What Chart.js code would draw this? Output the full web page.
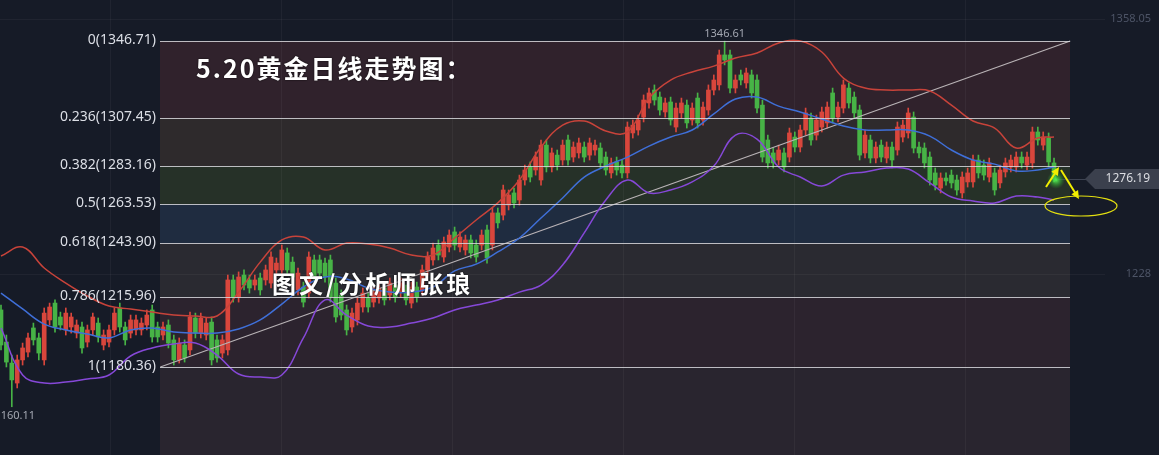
<!DOCTYPE html>
<html>
<head>
<meta charset="utf-8">
<script src="https://cdn.jsdelivr.net/npm/chart.js@4/dist/chart.umd.min.js"></script>
<style>
  html, body { margin: 0; padding: 0; background: #161b27; overflow: hidden; }
  canvas { display: block; }
</style>
</head>
<body>
<canvas id="c" width="1159" height="455"></canvas>
<script>
// 日线K线数据
const opens = [
  1209.5,1193.1,1182.4,1172.2,1184.0,1188.0,1200.3,1195.2,1184.0,1204.4,
  1213.0,1205.9,1199.3,1200.8,1197.7,1200.8,1193.1,1199.3,1202.8,1191.6,
  1193.1,1199.3,1210.5,1200.8,1197.7,1199.3,1199.3,1201.8,1209.5,1200.8,
  1196.7,1201.8,1194.2,1184.0,1191.6,1189.1,1205.4,1197.7,1196.7,1203.3,
  1194.2,1187.5,1189.1,1224.8,1216.1,1227.3,1224.8,1222.2,1225.8,1224.8,
  1223.2,1229.9,1229.9,1238.6,1233.9,1219.7,1221.2,1218.1,1235.0,1235.0,
  1233.4,1235.0,1223.2,1217.1,1209.5,1200.8,1204.4,1211.0,1215.6,1213.5,
  1215.6,1220.7,1217.1,1222.2,1218.6,1219.7,1213.0,1221.2,1219.7,1229.9,
  1235.0,1242.6,1236.5,1241.6,1249.3,1241.6,1240.1,1245.2,1242.6,1242.6,
  1250.3,1242.6,1259.0,1257.9,1263.0,1269.2,1265.6,1275.8,1282.4,1280.9,
  1275.8,1293.6,1282.4,1288.5,1286.0,1296.2,1287.5,1289.6,1292.6,1288.5,
  1291.1,1292.1,1287.5,1279.4,1285.0,1283.4,1279.4,1299.8,1301.3,1307.9,
  1315.1,1321.7,1318.1,1310.5,1315.6,1302.8,1310.0,1314.0,1306.4,1317.6,
  1306.4,1311.5,1321.7,1324.3,1339.6,1339.6,1322.7,1329.4,1325.3,1329.4,
  1326.8,1314.0,1296.2,1289.6,1286.0,1289.6,1287.5,1297.7,1292.6,1301.3,
  1307.4,1298.7,1302.8,1304.9,1320.2,1307.9,1312.5,1322.7,1318.1,1311.5,
  1289.6,1296.2,1287.0,1293.6,1287.0,1292.6,1291.1,1297.7,1299.8,1307.9,
  1292.6,1292.1,1287.5,1279.4,1271.7,1276.8,1278.3,1275.8,1269.2,1274.8,
  1274.8,1286.0,1283.4,1277.3,1279.4,1274.3,1279.9,1282.4,1282.4,1287.5,
  1283.4,1284.5,1300.3,1293.6,1297.2,1284.5
];
const highs = [
  1212.0,1196.7,1186.5,1186.5,1192.6,1197.7,1202.8,1197.7,1210.5,1213.0,
  1214.6,1208.4,1210.5,1207.9,1204.4,1203.3,1201.8,1207.9,1205.4,1199.3,
  1201.8,1210.5,1213.0,1203.3,1206.9,1206.9,1205.4,1209.5,1212.0,1203.3,
  1203.3,1204.4,1196.7,1195.2,1194.2,1208.4,1207.9,1207.9,1205.4,1205.9,
  1196.7,1196.7,1227.3,1227.3,1228.9,1229.9,1227.3,1227.3,1228.3,1232.4,
  1239.1,1236.0,1242.6,1241.1,1236.5,1230.9,1223.7,1239.1,1237.5,1237.5,
  1236.0,1237.5,1225.8,1219.7,1212.0,1210.5,1215.6,1220.7,1218.1,1221.2,
  1223.2,1223.2,1225.8,1224.8,1225.8,1222.2,1223.7,1223.7,1232.4,1239.1,
  1243.6,1245.2,1246.7,1250.3,1251.8,1249.3,1247.7,1247.7,1245.2,1250.3,
  1252.8,1261.5,1261.5,1273.2,1270.7,1271.7,1278.3,1283.4,1285.0,1290.1,
  1296.2,1296.2,1292.1,1291.1,1296.2,1298.7,1295.2,1297.2,1295.2,1297.2,
  1296.2,1294.7,1290.1,1287.0,1287.5,1286.0,1305.4,1306.4,1308.9,1319.2,
  1322.7,1324.3,1320.7,1317.6,1318.1,1315.1,1317.6,1316.6,1315.1,1320.2,
  1315.6,1324.3,1329.4,1342.1,1346.61,1342.1,1329.4,1331.9,1332.9,1331.9,
  1329.4,1316.6,1298.7,1292.1,1293.6,1292.1,1302.3,1300.3,1303.8,1312.5,
  1310.0,1308.9,1313.0,1315.6,1322.7,1315.6,1326.8,1325.3,1320.7,1314.0,
  1301.3,1298.7,1295.2,1296.2,1295.2,1295.2,1305.4,1306.4,1312.5,1310.5,
  1295.2,1294.7,1290.1,1281.9,1279.4,1279.4,1280.9,1278.3,1279.9,1281.9,
  1288.5,1288.5,1286.0,1287.0,1281.9,1283.4,1287.0,1288.5,1290.1,1290.1,
  1290.1,1302.8,1302.8,1300.3,1299.8,1287.0
];
const lows = [
  1189.1,1180.4,1160.11,1169.7,1181.4,1185.5,1191.6,1184.0,1181.4,1201.8,
  1198.2,1199.3,1196.7,1197.7,1195.2,1187.5,1190.6,1196.7,1193.1,1189.1,
  1190.6,1196.7,1198.2,1191.6,1195.2,1196.7,1196.7,1199.3,1193.1,1193.1,
  1194.2,1190.1,1181.4,1182.4,1182.9,1186.5,1195.2,1195.2,1194.2,1181.4,
  1182.9,1185.0,1186.5,1213.5,1213.5,1219.7,1218.1,1219.7,1217.1,1222.2,
  1220.7,1227.3,1227.3,1227.3,1223.7,1217.1,1211.0,1215.6,1223.7,1225.8,
  1223.7,1213.5,1203.3,1204.4,1196.7,1198.2,1201.8,1208.4,1208.4,1211.0,
  1213.0,1212.0,1214.6,1213.5,1216.1,1212.0,1210.5,1213.5,1217.1,1227.3,
  1232.4,1235.0,1233.9,1239.1,1240.1,1239.1,1237.5,1236.0,1233.9,1240.1,
  1233.4,1240.1,1251.3,1255.4,1260.5,1261.5,1263.0,1273.2,1274.8,1278.3,
  1273.2,1279.9,1279.9,1280.9,1283.4,1283.4,1285.0,1287.0,1285.0,1286.0,
  1288.5,1281.9,1278.3,1276.8,1278.3,1276.8,1276.8,1297.2,1298.7,1305.4,
  1312.5,1314.0,1308.9,1307.9,1303.8,1300.3,1307.4,1302.3,1303.8,1302.3,
  1303.8,1308.9,1319.2,1321.7,1334.5,1320.2,1320.2,1324.3,1322.7,1317.6,
  1310.0,1285.0,1281.9,1281.9,1283.4,1279.9,1285.0,1290.1,1290.1,1298.7,
  1293.6,1296.2,1300.3,1302.3,1304.9,1305.4,1310.0,1312.5,1307.4,1286.0,
  1287.0,1284.5,1284.5,1285.0,1284.5,1281.9,1288.5,1295.2,1297.2,1289.6,
  1287.0,1281.9,1273.2,1270.7,1269.2,1273.2,1271.7,1268.1,1266.6,1272.2,
  1272.2,1276.8,1275.8,1274.8,1268.1,1271.7,1277.3,1279.9,1279.9,1281.9,
  1280.9,1281.9,1293.6,1291.1,1282.4,1274.8
];
const closes = [
  1191.6,1182.9,1173.8,1184.0,1190.1,1195.2,1194.2,1187.5,1207.9,1211.0,
  1200.8,1201.8,1207.9,1205.9,1201.8,1190.1,1199.3,1205.9,1195.7,1196.7,
  1199.3,1207.9,1200.8,1194.2,1204.4,1204.4,1202.8,1206.9,1195.7,1195.7,
  1200.8,1192.6,1184.0,1192.6,1185.0,1205.9,1197.7,1205.4,1202.8,1184.0,
  1185.0,1194.2,1224.8,1216.1,1226.3,1222.2,1220.7,1224.8,1219.7,1229.9,
  1236.5,1233.4,1240.1,1229.9,1226.3,1228.3,1213.5,1236.5,1226.3,1228.3,
  1226.3,1216.1,1205.9,1206.9,1199.3,1207.9,1213.0,1218.1,1211.0,1218.6,
  1220.7,1214.6,1223.2,1216.1,1223.2,1214.6,1221.2,1216.1,1229.9,1236.5,
  1241.1,1237.5,1244.2,1247.7,1242.6,1246.7,1245.2,1238.6,1236.5,1247.7,
  1236.0,1259.0,1253.9,1270.7,1268.1,1264.1,1275.8,1280.9,1277.3,1287.5,
  1293.6,1282.4,1289.6,1283.4,1293.6,1286.0,1292.6,1294.7,1287.5,1294.7,
  1293.6,1284.5,1280.9,1284.5,1280.9,1279.4,1302.8,1303.8,1306.4,1316.6,
  1320.2,1316.6,1311.5,1315.1,1306.4,1312.5,1315.1,1304.9,1312.5,1304.9,
  1313.0,1321.7,1326.8,1339.6,1337.0,1322.7,1326.8,1326.8,1330.4,1320.2,
  1312.5,1287.5,1284.5,1284.5,1291.1,1282.4,1299.8,1292.6,1301.3,1310.0,
  1296.2,1306.4,1310.5,1313.0,1307.4,1313.0,1324.3,1315.1,1310.0,1288.5,
  1298.7,1287.0,1292.6,1287.5,1292.6,1286.0,1302.8,1303.8,1310.0,1292.1,
  1289.6,1284.5,1275.8,1273.2,1276.8,1275.3,1274.3,1270.7,1277.3,1279.4,
  1286.0,1279.4,1278.3,1284.5,1270.7,1280.9,1284.5,1286.0,1287.5,1284.5,
  1287.5,1300.3,1296.2,1297.7,1285.0,1276.19
];

// 布林带（读图取点，每4根K线一个点）
const bandIdx = [0,4,8,12,16,20,24,28,32,36,40,44,48,52,56,60,64,68,72,76,80,84,88,92,96,
  100,104,108,112,116,120,124,128,132,136,140,144,148,152,156,160,164,168,172,176,180,184,188,192,195];
const upperBand = [
  1237.0,1241.6,1230.9,1223.2,1216.6,1211.5,1210.0,1208.4,1206.9,1206.4,
  1206.4,1218.6,1233.9,1245.2,1246.7,1240.1,1243.6,1243.1,1241.1,1237.5,
  1237.5,1246.2,1255.4,1264.1,1275.8,1292.6,1303.8,1305.9,1300.8,1300.3,
  1317.6,1326.8,1330.9,1333.9,1338.0,1340.6,1345.7,1346.7,1341.1,1327.8,
  1322.7,1321.7,1321.7,1321.2,1314.0,1305.9,1302.3,1292.1,1297.2,1297.7
];
const midBand = [
  1218.1,1210.0,1202.3,1199.3,1197.2,1195.2,1199.3,1200.3,1198.2,1197.7,
  1197.7,1199.8,1204.4,1212.5,1221.2,1226.3,1225.3,1220.7,1218.6,1218.6,
  1221.2,1229.4,1232.9,1239.1,1246.2,1256.4,1266.6,1277.3,1282.9,1287.5,
  1293.1,1297.7,1301.3,1309.5,1317.1,1318.1,1313.5,1310.5,1306.9,1303.3,
  1301.3,1301.3,1301.3,1298.2,1291.1,1286.0,1283.9,1280.4,1280.9,1282.4
];
const lowerBand = [
  1200.3,1176.3,1172.2,1172.7,1174.3,1176.3,1186.0,1190.1,1192.1,1192.6,
  1186.5,1176.8,1175.3,1176.3,1195.2,1214.6,1206.9,1201.3,1200.8,1202.8,
  1205.4,1209.5,1212.0,1214.6,1218.6,1222.2,1232.4,1248.8,1265.6,1275.8,
  1269.2,1270.7,1274.8,1282.9,1298.7,1296.7,1282.4,1277.3,1272.7,1278.3,
  1279.9,1281.9,1281.4,1274.3,1267.1,1265.1,1264.1,1267.6,1267.1,1265.6
];

// 黄金分割
const fibLevels = [0, 0.236, 0.382, 0.5, 0.618, 0.786, 1];
const fibPrices = [1346.71, 1307.45, 1283.16, 1263.53, 1243.90, 1215.96, 1180.36];
const fibFills = ['#30222c', '#2e2a2c', '#263128', '#1f2c40', '#2a2a31', '#2c232e', '#29252f'];
const fibFrom = 29.5, fibTo = 198;

// 右侧刻度
const axisTicks = [1358.05, 1228];
const gridIdx = [20.2, 51.85, 83.5, 115.2, 146.85, 178.5];

const UP = '#d9463c', DOWN = '#47b346';
const idx = opens.map((_, i) => i);
const candleColors = idx.map(i => closes[i] >= opens[i] ? UP : DOWN);
const last = closes.length - 1;

function arrow(ctx, xa, ya, xb, yb) {
  const a = Math.atan2(yb - ya, xb - xa), h = 9;
  ctx.beginPath();
  ctx.moveTo(xa, ya);
  ctx.lineTo(xb - Math.cos(a) * 5, yb - Math.sin(a) * 5);
  ctx.stroke();
  ctx.beginPath();
  ctx.moveTo(xb, yb);
  ctx.lineTo(xb - h * Math.cos(a - 0.45), yb - h * Math.sin(a - 0.45));
  ctx.lineTo(xb - h * Math.cos(a + 0.45), yb - h * Math.sin(a + 0.45));
  ctx.closePath();
  ctx.fill();
}

const overlay = {
  id: 'overlay',
  beforeDatasetsDraw(chart) {
    const { ctx, scales: { x, y } } = chart;
    ctx.save();
    ctx.fillStyle = '#161b27';
    ctx.fillRect(0, 0, chart.width, chart.height);
    const x0 = Math.round(x.getPixelForValue(fibFrom)), x1 = Math.round(x.getPixelForValue(fibTo));
    fibPrices.forEach((p, k) => {
      const ya = Math.round(y.getPixelForValue(p));
      const yb = k + 1 < fibPrices.length ? Math.round(y.getPixelForValue(fibPrices[k + 1])) : chart.height;
      ctx.fillStyle = fibFills[k];
      ctx.fillRect(x0, ya, x1 - x0, yb - ya);
    });
    // 网格
    ctx.strokeStyle = 'rgba(255,255,255,0.045)';
    ctx.lineWidth = 1;
    gridIdx.forEach(g => {
      const gx = Math.round(x.getPixelForValue(g)) + 0.5;
      ctx.beginPath(); ctx.moveTo(gx, 0); ctx.lineTo(gx, chart.height); ctx.stroke();
    });
    axisTicks.forEach(t => {
      const gy = Math.round(y.getPixelForValue(t)) + 0.5;
      ctx.beginPath(); ctx.moveTo(0, gy); ctx.lineTo(1105, gy); ctx.stroke();
    });
    ctx.restore();
  },
  afterDatasetsDraw(chart) {
    const { ctx, scales: { x, y } } = chart;
    ctx.save();
    const x0 = Math.round(x.getPixelForValue(fibFrom)), x1 = Math.round(x.getPixelForValue(fibTo));

    // 分割线和标签
    ctx.strokeStyle = 'rgba(215,215,220,0.85)';
    ctx.lineWidth = 1;
    ctx.font = '14px "Noto Sans"';
    ctx.textAlign = 'right';
    ctx.textBaseline = 'middle';
    ctx.fillStyle = '#dcdfe6';
    fibPrices.forEach((p, k) => {
      const yy = Math.round(y.getPixelForValue(p)) + 0.5;
      ctx.beginPath(); ctx.moveTo(x0, yy); ctx.lineTo(x1, yy); ctx.stroke();
      ctx.fillText(fibLevels[k] + '(' + p.toFixed(2) + ')', x0 - 4, yy - 1);
    });

    // 最高/最低价
    ctx.font = '11px "Noto Sans"';
    ctx.fillStyle = '#a3a7b1';
    ctx.textAlign = 'center';
    ctx.fillText(highs[134].toFixed(2), x.getPixelForValue(134), y.getPixelForValue(highs[134]) - 7);
    ctx.fillText(lows[2].toFixed(2), x.getPixelForValue(2) + 3, y.getPixelForValue(lows[2]) + 9);

    // 右侧刻度
    ctx.textAlign = 'right';
    ctx.fillStyle = '#4d5466';
    axisTicks.forEach(t => ctx.fillText(String(t), 1151, y.getPixelForValue(t)));

    // 最新价
    const lx = x.getPixelForValue(last), ly = Math.round(y.getPixelForValue(closes[last]));
    ctx.strokeStyle = '#3d4352';
    ctx.beginPath(); ctx.moveTo(lx + 4, ly + 0.5); ctx.lineTo(1086, ly + 0.5); ctx.stroke();
    ctx.fillStyle = '#3b404d';
    ctx.beginPath();
    ctx.moveTo(1085, ly); ctx.lineTo(1095, ly - 10); ctx.lineTo(1159, ly - 10);
    ctx.lineTo(1159, ly + 10); ctx.lineTo(1095, ly + 10); ctx.closePath(); ctx.fill();
    ctx.fillStyle = '#dcdde2';
    ctx.font = '12px "Noto Sans"';
    ctx.fillText(closes[last].toFixed(2), 1150, ly);

    // 绿色光点
    const g = ctx.createRadialGradient(lx + 2, ly + 1, 0, lx + 2, ly + 1, 9);
    g.addColorStop(0, 'rgba(90,255,90,0.95)');
    g.addColorStop(0.5, 'rgba(60,200,60,0.5)');
    g.addColorStop(1, 'rgba(40,160,40,0)');
    ctx.fillStyle = g;
    ctx.beginPath(); ctx.arc(lx + 2, ly + 1, 9, 0, Math.PI * 2); ctx.fill();

    // 箭头和椭圆
    ctx.strokeStyle = '#f2ee00';
    ctx.fillStyle = '#f2ee00';
    ctx.lineWidth = 2;
    arrow(ctx, 1046, 187, 1059, 167);
    arrow(ctx, 1061, 170, 1079, 199);
    ctx.lineWidth = 1.2;
    ctx.strokeStyle = '#e3df10';
    ctx.beginPath(); ctx.ellipse(1081, 206, 36, 10, 0, 0, Math.PI * 2); ctx.stroke();

    // 标题文字
    ctx.textAlign = 'left';
    ctx.textBaseline = 'alphabetic';
    ctx.fillStyle = '#ffffff';
    ctx.shadowColor = 'rgba(0,0,0,0.85)';
    ctx.shadowBlur = 2;
    ctx.letterSpacing = '2px';
    ctx.font = 'bold 25px "Noto Sans CJK SC"';
    ctx.fillText('5.20黄金日线走势图：', 196, 78);
    ctx.letterSpacing = '3px';
    ctx.font = 'bold 24px "Noto Sans CJK SC"';
    ctx.fillText('图文/分析师张琅', 272, 293);
    ctx.restore();
  }
};

new Chart(document.getElementById('c'), {
  type: 'bar',
  data: {
    datasets: [
      {
        type: 'line', label: '上轨',
        data: bandIdx.map((i, k) => ({ x: i, y: upperBand[k] })),
        borderColor: '#c8433a', borderWidth: 1.5, pointRadius: 0, tension: 0.4, order: 0
      },
      {
        type: 'line', label: '中轨',
        data: bandIdx.map((i, k) => ({ x: i, y: midBand[k] })),
        borderColor: '#3f6fd8', borderWidth: 1.5, pointRadius: 0, tension: 0.4, order: 0
      },
      {
        type: 'line', label: '下轨',
        data: bandIdx.map((i, k) => ({ x: i, y: lowerBand[k] })),
        borderColor: '#8648d8', borderWidth: 1.5, pointRadius: 0, tension: 0.4, order: 0
      },
      {
        type: 'line', label: '趋势线',
        data: [{ x: fibFrom, y: fibPrices[6] }, { x: fibTo, y: fibPrices[0] }],
        borderColor: '#b9b3b6', borderWidth: 1.2, pointRadius: 0, order: 0
      },
      {
        label: '影线',
        data: idx.map(i => ({ x: i, y: [lows[i], highs[i]] })),
        backgroundColor: candleColors, barThickness: 1, grouped: false, order: 2
      },
      {
        label: '实体',
        data: idx.map(i => ({ x: i, y: [opens[i], closes[i]] })),
        backgroundColor: candleColors, barThickness: 4, grouped: false, minBarLength: 1, order: 1
      }
    ]
  },
  options: {
    responsive: false,
    animation: false,
    devicePixelRatio: 1,
    layout: { padding: 0 },
    plugins: { legend: { display: false }, tooltip: { enabled: false } },
    scales: {
      x: { type: 'linear', display: false, min: -0.185, max: 214.44, offset: false },
      y: { display: false, min: 1135.49, max: 1367.63 }
    }
  },
  plugins: [overlay]
});
</script>
</body>
</html>
